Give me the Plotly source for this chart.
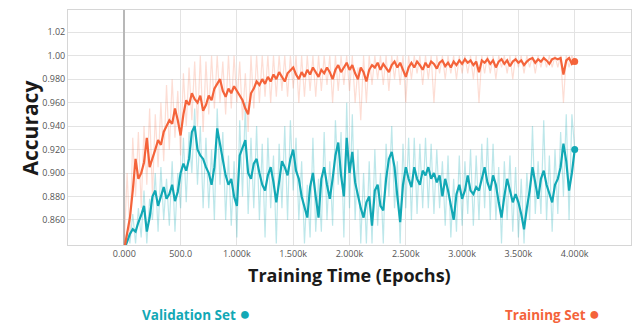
import plotly.graph_objects as go

epochs = list(range(0, 4001, 25))

train_smooth = [
    0.835, 0.848, 0.862, 0.885, 0.912, 0.895, 0.900, 0.909, 0.930, 0.905,
    0.912, 0.920, 0.928, 0.924, 0.935, 0.940, 0.945, 0.942, 0.955, 0.945,
    0.932, 0.950, 0.962, 0.958, 0.968, 0.963, 0.960, 0.966, 0.953, 0.958,
    0.966, 0.962, 0.972, 0.976, 0.980, 0.970, 0.965, 0.972, 0.968, 0.974,
    0.970, 0.966, 0.962, 0.955, 0.950, 0.968, 0.972, 0.978, 0.975, 0.980,
    0.976, 0.982, 0.978, 0.984, 0.980, 0.986, 0.982, 0.978, 0.985, 0.988,
    0.990, 0.984, 0.980, 0.986, 0.982, 0.988, 0.984, 0.990, 0.986, 0.982,
    0.988, 0.985, 0.990, 0.986, 0.980, 0.988, 0.992, 0.986, 0.990, 0.994,
    0.988, 0.992, 0.985, 0.980, 0.990, 0.986, 0.978, 0.988, 0.992, 0.990,
    0.994, 0.988, 0.993, 0.990, 0.986, 0.992, 0.995, 0.990, 0.994, 0.988,
    0.982, 0.990, 0.994, 0.990, 0.995, 0.992, 0.988, 0.994, 0.990, 0.995,
    0.993, 0.989, 0.994, 0.996, 0.991, 0.994, 0.990, 0.995, 0.992, 0.996,
    0.993, 0.997, 0.994, 0.996, 0.992, 0.995, 0.986, 0.996, 0.994, 0.997,
    0.993, 0.996, 0.990, 0.995, 0.997, 0.993, 0.996, 0.991, 0.995, 0.997,
    0.994, 0.996, 0.992, 0.995, 0.997, 0.998, 0.994, 0.997, 0.995, 0.998,
    0.996, 0.993, 0.997, 0.998, 0.997, 0.998, 0.984, 0.996, 0.998, 0.993,
    0.995,
]

train_raw = [
    0.840, 0.900, 0.845, 0.930, 0.880, 0.935, 0.870, 0.940, 0.890, 0.955,
    0.880, 0.950, 0.905, 0.960, 0.910, 0.975, 0.920, 0.980, 0.930, 0.970,
    0.915, 0.985, 0.940, 0.990, 0.945, 0.995, 0.940, 1.000, 0.935, 0.995,
    0.950, 1.000, 0.955, 1.000, 0.960, 0.995, 0.950, 1.000, 0.955, 1.000,
    0.960, 0.995, 0.945, 0.985, 0.935, 1.000, 0.955, 1.000, 0.960, 1.000,
    0.965, 1.000, 0.960, 1.000, 0.965, 1.000, 0.970, 1.000, 0.965, 1.000,
    0.972, 1.000, 0.960, 1.000, 0.965, 1.000, 0.970, 1.000, 0.965, 1.000,
    0.970, 1.000, 0.975, 1.000, 0.960, 1.000, 0.970, 1.000, 0.975, 1.000,
    0.970, 1.000, 0.960, 0.990, 0.945, 1.000, 0.960, 1.000, 0.975, 1.000,
    0.980, 1.000, 0.975, 1.000, 0.970, 1.000, 0.980, 1.000, 0.975, 1.000,
    0.960, 1.000, 0.980, 1.000, 0.985, 1.000, 0.975, 1.000, 0.980, 1.000,
    0.960, 1.000, 0.985, 1.000, 0.980, 1.000, 0.985, 1.000, 0.980, 1.000,
    0.985, 1.000, 0.985, 1.000, 0.980, 1.000, 0.960, 1.000, 0.985, 1.000,
    0.985, 1.000, 0.980, 1.000, 0.990, 1.000, 0.985, 1.000, 0.980, 1.000,
    0.990, 1.000, 0.985, 1.000, 0.990, 1.000, 0.985, 1.000, 0.990, 1.000,
    0.990, 1.000, 0.990, 1.000, 0.990, 1.000, 0.960, 1.000, 0.990, 1.000,
    0.995,
]

val_smooth = [
    0.835, 0.842, 0.848, 0.852, 0.850, 0.858, 0.864, 0.872, 0.850, 0.862,
    0.880, 0.885, 0.872, 0.880, 0.888, 0.878, 0.882, 0.890, 0.876, 0.884,
    0.900, 0.908, 0.902, 0.912, 0.935, 0.940, 0.920, 0.915, 0.912, 0.905,
    0.900, 0.890, 0.905, 0.938, 0.925, 0.910, 0.898, 0.890, 0.895, 0.880,
    0.872, 0.915, 0.922, 0.928, 0.900, 0.895, 0.908, 0.912, 0.900, 0.890,
    0.885, 0.898, 0.905, 0.892, 0.875, 0.895, 0.910, 0.905, 0.898, 0.912,
    0.920, 0.902, 0.895, 0.880, 0.870, 0.862, 0.888, 0.900, 0.880, 0.862,
    0.895, 0.905, 0.890, 0.878, 0.895, 0.915, 0.926, 0.898, 0.880, 0.930,
    0.900, 0.918, 0.892, 0.880, 0.870, 0.862, 0.875, 0.880, 0.855, 0.885,
    0.890, 0.872, 0.868, 0.895, 0.912, 0.918, 0.905, 0.880, 0.858, 0.890,
    0.905, 0.895, 0.888, 0.905, 0.895, 0.890, 0.902, 0.898, 0.905, 0.895,
    0.900, 0.892, 0.898, 0.880, 0.895, 0.885, 0.872, 0.860, 0.882, 0.890,
    0.878, 0.885, 0.898, 0.885, 0.882, 0.888, 0.885, 0.895, 0.905, 0.892,
    0.885, 0.898, 0.890, 0.875, 0.862, 0.880, 0.895, 0.885, 0.875, 0.882,
    0.875, 0.865, 0.852, 0.870, 0.885, 0.905, 0.892, 0.878, 0.895, 0.902,
    0.890, 0.882, 0.875, 0.890, 0.895, 0.905, 0.925, 0.910, 0.885, 0.900,
    0.920,
]

val_raw = [
    0.838, 0.850, 0.840, 0.865, 0.840, 0.870, 0.845, 0.885, 0.840, 0.878,
    0.860, 0.900, 0.850, 0.905, 0.860, 0.895, 0.855, 0.910, 0.850, 0.900,
    0.870, 0.930, 0.875, 0.935, 0.900, 0.955, 0.890, 0.940, 0.870, 0.930,
    0.870, 0.920, 0.860, 0.955, 0.890, 0.935, 0.860, 0.915, 0.855, 0.910,
    0.845, 0.945, 0.880, 0.960, 0.865, 0.930, 0.870, 0.940, 0.860, 0.925,
    0.845, 0.930, 0.870, 0.915, 0.840, 0.925, 0.870, 0.940, 0.860, 0.945,
    0.885, 0.930, 0.860, 0.910, 0.840, 0.890, 0.845, 0.930, 0.850, 0.895,
    0.850, 0.935, 0.860, 0.910, 0.855, 0.945, 0.890, 0.935, 0.845, 0.960,
    0.870, 0.950, 0.860, 0.920, 0.840, 0.900, 0.840, 0.910, 0.840, 0.920,
    0.855, 0.900, 0.840, 0.925, 0.880, 0.940, 0.870, 0.910, 0.840, 0.925,
    0.870, 0.930, 0.860, 0.930, 0.865, 0.925, 0.870, 0.930, 0.870, 0.925,
    0.865, 0.920, 0.870, 0.910, 0.855, 0.915, 0.845, 0.895, 0.850, 0.915,
    0.855, 0.910, 0.865, 0.920, 0.855, 0.915, 0.860, 0.925, 0.870, 0.930,
    0.860, 0.925, 0.860, 0.905, 0.840, 0.910, 0.860, 0.915, 0.850, 0.905,
    0.845, 0.895, 0.840, 0.900, 0.860, 0.940, 0.865, 0.910, 0.865, 0.945,
    0.860, 0.915, 0.850, 0.920, 0.865, 0.935, 0.880, 0.950, 0.860, 0.950,
    0.920,
]

x_tick_vals = [0, 500, 1000, 1500, 2000, 2500, 3000, 3500, 4000]
x_tick_text = ["0.000", "500.0", "1.000k", "1.500k", "2.000k", "2.500k", "3.000k", "3.500k", "4.000k"]
y_tick_vals = [0.86, 0.88, 0.90, 0.92, 0.94, 0.96, 0.98, 1.00, 1.02]
y_tick_text = ["0.860", "0.880", "0.900", "0.920", "0.940", "0.960", "0.980", "1.00", "1.02"]

ORANGE = "#F4633A"
TEAL = "#12A8B5"

fig = go.Figure()
fig.add_trace(go.Scatter(x=epochs, y=train_raw, mode="lines",
                         line=dict(color="rgba(244,99,58,0.22)", width=1.2), hoverinfo="skip"))
fig.add_trace(go.Scatter(x=epochs, y=val_raw, mode="lines",
                         line=dict(color="rgba(18,168,181,0.28)", width=1.2), hoverinfo="skip"))
fig.add_trace(go.Scatter(x=epochs, y=val_smooth, mode="lines",
                         line=dict(color=TEAL, width=2.2)))
fig.add_trace(go.Scatter(x=epochs, y=train_smooth, mode="lines",
                         line=dict(color=ORANGE, width=2.2)))
fig.add_trace(go.Scatter(x=[epochs[-1]], y=[val_smooth[-1]], mode="markers",
                         marker=dict(color=TEAL, size=7)))
fig.add_trace(go.Scatter(x=[epochs[-1]], y=[train_smooth[-1]], mode="markers",
                         marker=dict(color=ORANGE, size=7)))

fig.update_layout(
    width=636, height=324,
    margin=dict(l=68, r=5, t=10, b=79),
    paper_bgcolor="white", plot_bgcolor="white",
    showlegend=False,
    font=dict(family="Open Sans", color="#555"),
    xaxis=dict(range=[-500, 4500], tickvals=x_tick_vals, ticktext=x_tick_text,
               tickfont=dict(size=9, color="#555"), showgrid=True,
               gridcolor="#e3e3e3", gridwidth=1, zeroline=True, zerolinecolor="#b8b8b8",
               zerolinewidth=1.5, showline=True, linecolor="#d6d6d6", mirror=True,
               dtick=500, ticks=""),
    yaxis=dict(range=[0.8386, 1.039], tickvals=y_tick_vals, ticktext=y_tick_text,
               tickfont=dict(size=9, color="#555"), showgrid=True,
               gridcolor="#e3e3e3", gridwidth=1, zeroline=False,
               showline=True, linecolor="#d6d6d6", mirror=True, ticks=""),
    annotations=[
        dict(text="<b>Training Time (Epochs)</b>", x=0.50, y=-0.128, xref="paper", yref="paper",
             xanchor="center", yanchor="middle", showarrow=False,
             font=dict(size=18, color="#1a1a1a", family="Open Sans")),
        dict(text="<b>Accuracy</b>", x=-0.0675, y=0.50, xref="paper", yref="paper",
             xanchor="center", yanchor="middle", showarrow=False, textangle=-90,
             font=dict(size=21, color="#1a1a1a", family="Open Sans")),
        dict(text="<b>Validation Set </b><span style='font-size:18px'>●</span>", x=0.227, y=-0.29,
             xref="paper", yref="paper",
             xanchor="center", yanchor="middle", showarrow=False,
             font=dict(size=13.5, color=TEAL, family="Open Sans")),
        dict(text="<b>Training Set </b><span style='font-size:18px'>●</span>", x=0.86, y=-0.29,
             xref="paper", yref="paper",
             xanchor="center", yanchor="middle", showarrow=False,
             font=dict(size=13.5, color=ORANGE, family="Open Sans")),
    ],
)

fig.write_html("out.html", config={"displayModeBar": False},
               post_script="document.body.style.margin='0';document.body.style.padding='0';")
